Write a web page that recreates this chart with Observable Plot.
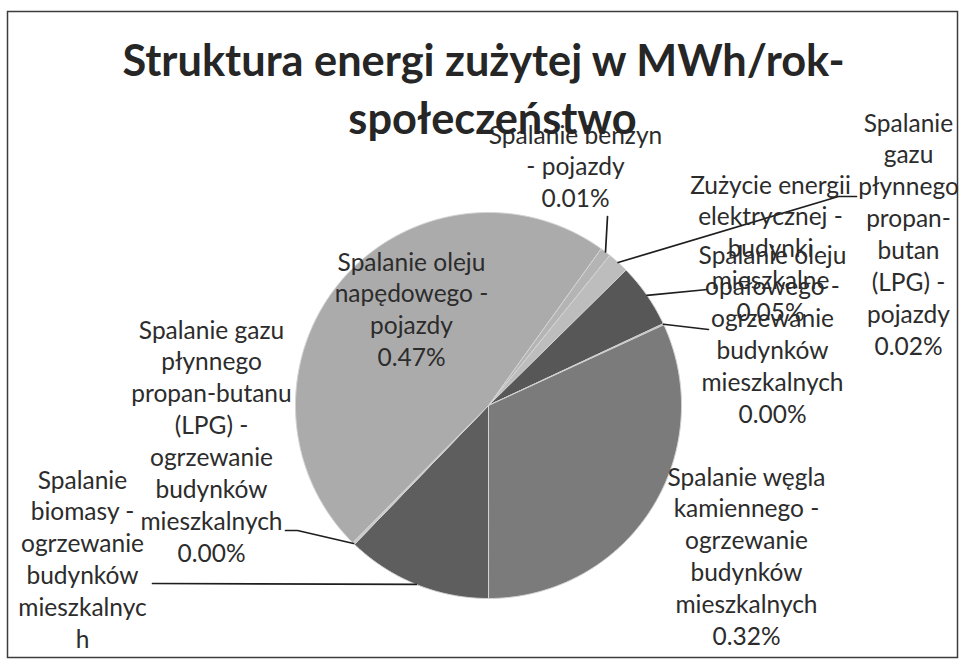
<!DOCTYPE html>
<html>
<head>
<meta charset="utf-8">
<script src="https://cdn.jsdelivr.net/npm/d3@7"></script>
<script src="https://cdn.jsdelivr.net/npm/@observablehq/plot@0.6"></script>
<style>
  html, body { margin: 0; padding: 0; background: #ffffff; }
  #chart svg { display: block; }
</style>
</head>
<body>
<div id="chart"></div>
<script>
// ---------------- data ----------------
const categories = [
  "Spalanie benzyn - pojazdy",
  "Spalanie gazu płynnego propan-butan (LPG) - pojazdy",
  "Zużycie energii elektrycznej - budynki mieszkalne",
  "Spalanie oleju opałowego - ogrzewanie budynków mieszkalnych",
  "Spalanie węgla kamiennego - ogrzewanie budynków mieszkalnych",
  "Spalanie biomasy - ogrzewanie budynków mieszkalnych",
  "Spalanie gazu płynnego propan-butanu (LPG) - ogrzewanie budynków mieszkalnych",
  "Spalanie oleju napędowego - pojazdy"
];
const shares = [0.009, 0.018, 0.054, 0.001, 0.318, 0.122, 0.002, 0.474];
const nameLines = [
  ["Spalanie benzyn", "- pojazdy"],
  ["Spalanie", "gazu", "płynnego", "propan-", "butan", "(LPG) -", "pojazdy"],
  ["Zużycie energii", "elektrycznej -", "budynki", "mieszkalne"],
  ["Spalanie oleju", "opałowego -", "ogrzewanie", "budynków", "mieszkalnych"],
  ["Spalanie węgla", "kamiennego -", "ogrzewanie", "budynków", "mieszkalnych"],
  ["Spalanie", "biomasy -", "ogrzewanie", "budynków", "mieszkalnyc", "h"],
  ["Spalanie gazu", "płynnego", "propan-butanu", "(LPG) -", "ogrzewanie", "budynków", "mieszkalnych"],
  ["Spalanie oleju", "napędowego -", "pojazdy"]
];
const percentVisible = [true, true, true, true, true, false, true, true];
const titleLines = ["Struktura energi zużytej w MWh/rok-", "społeczeństwo"];

// ---------------- layout / style ----------------
const W = 964, H = 659;
const CX = 488, CY = 405, R = 193;
const START_DEG = 35.7;
const sliceColors = ["#b4b4b4", "#bdbdbd", "#575757", "#8a8a8a", "#7b7b7b", "#5e5e5e", "#c9c9c9", "#ababab"];
// label block: centre x, first baseline (pixels)
const labelPos = [
  [575, 143], [908, 131], [770, 193], [772, 263],
  [746, 485], [82, 488], [211, 338], [411, 270]
];
// leader-line end points at the label side (pixels); null = no leader
const leaderEnds = [
  [[607, 216]],
  [[838, 196], [856, 196]],
  [[707, 289]],
  [[708, 329]],
  null,
  [[152, 583]],
  [[297, 530], [285, 530]],
  null
];
const titlePos = [[483, 75], [492, 133]];
const LABEL_FS = 24.5, LINE_PX = 31.9;
const FONT = "Lato, 'Open Sans', sans-serif";
const TEXT_COLOR = "#2c2c2c";

const ux = px => (px - CX) / R;
const uy = py => (CY - py) / R;

// fit title font to the reference line width
const ctx = document.createElement("canvas").getContext("2d");
ctx.font = "bold 40px Lato";
const titleFS = 40 * 724 / ctx.measureText(titleLines[0]).width;

// ---------------- build ----------------
const rows = categories.map((name, i) => ({name, value: shares[i], i}));
const pie = d3.pie().value(d => d.value).sort(null)
  .startAngle(START_DEG * Math.PI / 180)
  .endAngle(START_DEG * Math.PI / 180 + 2 * Math.PI);
const arcs = pie(rows);

const slicePts = arcs.flatMap(a => {
  const name = a.data.name;
  const n = Math.max(2, Math.ceil((a.endAngle - a.startAngle) / (Math.PI / 360)));
  const pts = [{name, x: 0, y: 0}];
  for (let k = 0; k <= n; ++k) {
    const t = a.startAngle + (a.endAngle - a.startAngle) * k / n;
    pts.push({name, x: Math.sin(t), y: Math.cos(t)});
  }
  pts.push({name, x: 0, y: 0});
  return pts;
});

const fmt = d3.format(".2f");
const labelRows = rows.map((d, i) => {
  const lines = nameLines[i].concat(percentVisible[i] ? [fmt(d.value) + "%"] : []);
  const [px, py] = labelPos[i];
  return {x: ux(px), y: uy(py + (lines.length - 1) * LINE_PX), text: lines.join("\n")};
});

const leaderPts = arcs.flatMap((a, i) => {
  if (!leaderEnds[i]) return [];
  const mid = (a.startAngle + a.endAngle) / 2;
  const pts = [{k: i, x: Math.sin(mid), y: Math.cos(mid)}];
  leaderEnds[i].forEach(([px, py]) => pts.push({k: i, x: ux(px), y: uy(py)}));
  return pts;
});

const titleRows = titleLines.map((t, i) => ({text: t, x: ux(titlePos[i][0]), y: uy(titlePos[i][1])}));

const chart = Plot.plot({
  width: W,
  height: H,
  marginLeft: 7, marginRight: 7, marginTop: 11, marginBottom: 2,
  style: {background: "#ffffff", fontFamily: FONT, overflow: "hidden"},
  x: {domain: [-1, 1], range: [CX - R, CX + R], axis: null},
  y: {domain: [-1, 1], range: [CY + R, CY - R], axis: null},
  color: {domain: categories, range: sliceColors},
  marks: [
    Plot.frame({stroke: "#3c3c3c", strokeWidth: 1.5}),
    Plot.line(slicePts, {x: "x", y: "y", z: "name", fill: "name", stroke: "#d4d4d4", strokeWidth: 1, curve: "linear"}),
    Plot.line(leaderPts, {x: "x", y: "y", z: "k", stroke: "#1e1e1e", strokeWidth: 1.7, curve: "linear"}),
    Plot.text(labelRows, {x: "x", y: "y", text: "text", lineAnchor: "bottom", lineHeight: LINE_PX / LABEL_FS,
      fontSize: LABEL_FS, fill: TEXT_COLOR, textAnchor: "middle", fontFamily: FONT}),
    Plot.text(titleRows, {x: "x", y: "y", text: "text", lineAnchor: "bottom", fontSize: titleFS,
      fontWeight: "bold", fill: "#262626", textAnchor: "middle", fontFamily: FONT})
  ]
});
document.getElementById("chart").appendChild(chart);
</script>
</body>
</html>
